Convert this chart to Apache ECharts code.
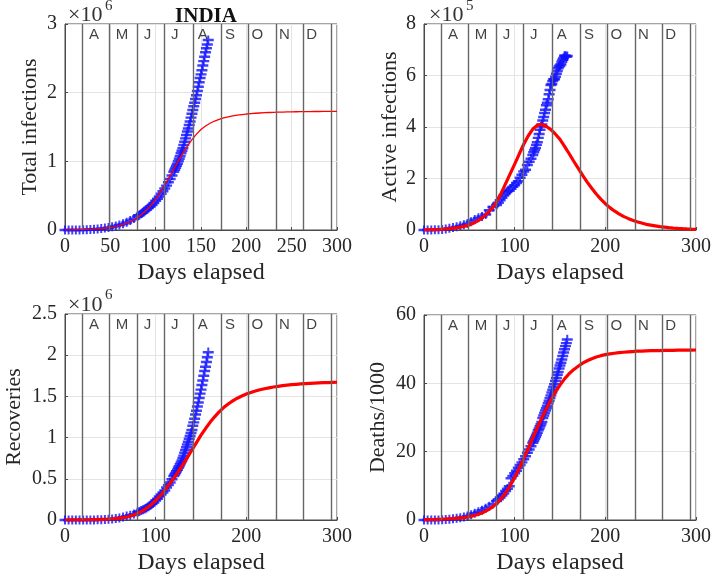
<!DOCTYPE html>
<html><head><meta charset="utf-8">
<script src="https://cdn.jsdelivr.net/npm/echarts@6/dist/echarts.min.js"></script>
<style>html,body{margin:0;padding:0;background:#fff}#c{width:714px;height:576px}</style>
</head><body><div id="c"></div><script>
// ---- data ----
const blueDays = [0,4,8,12,16,20,24,28,32,36,40,44,48,52,56,60,64,68,72,76,80,
  82,84,86,88,90,92,94,96,98,100,102,104,106,108,110,112,114,116,118,120,
  121,122,123,124,125,126,127,128,129,130,131,132,133,134,135,136,137,138,139,140,
  141,142,143,144,145,146,147,148,149,150,151,152,153,154,155,156,157,158];
// total infections (x1e6)
const totalInfections = [0.0001,0.0001,0.0003,0.0007,0.0011,0.0025,0.0048,0.0076,0.0115,0.0157,0.0214,0.0279,0.0349,0.0464,0.0597,0.0743,0.0906,0.112,0.1385,0.1658,0.1987,
  0.2169,0.2366,0.2575,0.2766,0.2983,0.3216,0.3431,0.3673,0.395,0.426,0.456,0.49,0.529,0.567,0.605,0.648,0.697,0.743,0.794,0.849,
  0.879,0.907,0.936,0.968,1.003,1.038,1.077,1.118,1.155,1.192,1.238,1.287,1.336,1.385,1.435,1.48,1.531,1.583,1.638,1.695,
  1.75,1.803,1.855,1.908,1.964,2.027,2.088,2.153,2.215,2.268,2.329,2.396,2.461,2.526,2.589,2.647,2.702,2.767];
// active infections (x1e5)
const activeInfections = [0.001,0.001,0.003,0.006,0.01,0.023,0.043,0.066,0.097,0.126,0.165,0.207,0.248,0.322,0.403,0.473,0.528,0.603,0.767,0.896,0.979,
  1.066,1.162,1.261,1.341,1.428,1.504,1.529,1.602,1.687,1.746,1.827,1.895,2.034,2.154,2.279,2.346,2.528,2.654,2.769,2.915,
  3.021,3.114,3.188,3.31,3.414,3.582,3.735,3.898,4.024,4.102,4.254,4.389,4.547,4.676,4.85,4.943,5.084,5.28,5.442,5.638,
  5.675,5.788,5.858,5.862,5.953,6.074,6.176,6.29,6.356,6.391,6.437,6.539,6.616,6.686,6.77,6.771,6.728,6.761];
// recoveries (x1e6)
const recoveries = [0.00001,0.00001,0.00002,0.00004,0.0001,0.0002,0.0004,0.0008,0.0014,0.0026,0.0043,0.0063,0.009,0.0126,0.0174,0.0246,0.0349,0.0483,0.0578,0.0715,0.0952,
  0.1042,0.1138,0.1242,0.1348,0.147,0.162,0.1803,0.1949,0.2134,0.2377,0.2588,0.2852,0.3095,0.3347,0.3593,0.3947,0.4245,0.457,0.4955,0.5348,
  0.5537,0.5719,0.5929,0.6121,0.636,0.6535,0.6767,0.7007,0.7245,0.7531,0.7827,0.8175,0.8499,0.8853,0.9172,0.9523,0.9884,1.02,1.0581,1.0947,
  1.1451,1.1861,1.2303,1.282,1.328,1.378,1.4279,1.4806,1.535,1.5836,1.6392,1.6951,1.7514,1.8084,1.862,1.919,1.9774,2.038];
// deaths (thousands)
const deaths = [0.002,0.003,0.006,0.012,0.03,0.07,0.14,0.25,0.39,0.52,0.69,0.88,1.15,1.57,1.98,2.42,2.87,3.44,4.02,4.71,5.61,
  6.08,6.65,7.2,7.75,8.5,9.2,9.9,12.24,12.95,13.7,14.48,15.3,16.1,16.9,17.83,18.66,19.7,20.64,21.6,22.67,
  23.17,23.73,24.31,24.91,25.6,26.27,26.82,27.5,28.08,28.73,29.86,30.6,31.36,32.06,32.77,33.43,34.19,34.96,35.75,36.51,
  37.36,38.13,38.94,39.79,40.7,41.59,42.52,43.38,44.39,45.26,46.09,47.03,48.04,49.04,49.98,50.92,51.8,52.89];

const modelDays = [0,5,10,15,20,25,30,35,40,45,50,55,60,65,70,75,80,85,90,95,100,105,110,115,120,125,130,135,140,145,150,
  155,160,165,170,175,180,185,190,195,200,205,210,215,220,225,230,235,240,245,250,255,260,265,270,275,280,285,290,295,300];
const modelTotal = [0.003,0.003,0.004,0.006,0.007,0.01,0.013,0.017,0.022,0.029,0.038,0.05,0.065,0.084,0.109,0.141,0.181,0.231,0.292,0.365,0.45,0.547,0.655,0.77,0.889,1.006,1.119,1.223,1.316,1.396,1.464,
  1.515,1.555,1.587,1.612,1.632,1.648,1.661,1.672,1.681,1.689,1.695,1.7,1.704,1.708,1.711,1.714,1.716,1.718,1.72,1.721,1.722,1.723,1.724,1.725,1.726,1.726,1.727,1.727,1.728,1.728];
const modelActive = [0.01,0.01,0.015,0.02,0.03,0.04,0.06,0.08,0.11,0.15,0.2,0.27,0.37,0.5,0.65,0.84,1.08,1.42,1.8,2.18,2.56,2.95,3.33,3.66,3.92,4.07,4.1,4.02,3.9,3.72,3.52,
  3.25,2.97,2.68,2.4,2.12,1.86,1.62,1.4,1.2,1.02,0.87,0.74,0.63,0.53,0.45,0.38,0.32,0.27,0.22,0.19,0.16,0.13,0.11,0.09,0.075,0.062,0.052,0.043,0.036,0.03];
const modelRecoveries = [0,0.001,0.001,0.002,0.002,0.003,0.004,0.005,0.007,0.009,0.012,0.016,0.022,0.031,0.043,0.058,0.08,0.108,0.143,0.186,0.237,0.295,0.36,0.432,0.508,0.588,0.672,0.76,0.85,0.94,1.03,
  1.11,1.185,1.252,1.312,1.364,1.408,1.446,1.478,1.505,1.528,1.548,1.565,1.58,1.593,1.604,1.614,1.622,1.63,1.636,1.642,1.647,1.651,1.655,1.658,1.661,1.664,1.666,1.668,1.67,1.672];
const modelDeaths = [0.1,0.12,0.15,0.2,0.25,0.32,0.4,0.5,0.6,0.75,1,1.3,1.7,2.2,2.9,3.7,4.8,6.2,7.9,10,12.4,15.1,18,21,24,27,29.9,32.6,35.2,37.5,39.5,
  41.3,42.8,44,45,45.9,46.6,47.2,47.7,48.1,48.4,48.6,48.8,49,49.1,49.2,49.3,49.4,49.45,49.5,49.55,49.58,49.6,49.63,49.65,49.67,49.7,49.7,49.72,49.74,49.75];

const monthStartDays = [19,49,80,110,141,172,202,233,263,294];
const monthLabelDays = [32,63,91,121,152,182,212,242,272];
const monthNames = ['A','M','J','J','A','S','O','N','D'];

const yTicks = [
  {max:3, interval:1}, {max:8, interval:2}, {max:2.5, interval:0.5}, {max:60, interval:20}
];
const xIntervals = [50,100,100,100];
const yNames = ['Total infections','Active infections','Recoveries','Deaths/1000'];

// ---- layout / style ----
const SERIF = 'Liberation Serif';
const grids = [
  {left:65, top:24, width:272, height:206},
  {left:424, top:24, width:273, height:206},
  {left:65, top:314, width:272, height:208},
  {left:424, top:315, width:273, height:207}
];
const yNameGaps = [24, 23, 40, 35];
const redWidths = [1.3, 3.2, 3.2, 3.2];
const blueSets = [totalInfections, activeInfections, recoveries, deaths];
const redSets = [modelTotal, modelActive, modelRecoveries, modelDeaths];
const plusPath = 'path://M0,3H10V5.2H0Z M4.1,0H5.9V8H4.1Z';
const frame = '#4a4a4a';
const txt = '#262626';

const option = {
  animation:false,
  backgroundColor:'#fff',
  title:{text:'INDIA', left:201, top:1, textAlign:'center',
    textStyle:{fontFamily:SERIF, fontWeight:'bold', fontSize:21, color:'#111'}},
  grid: grids.map(g => Object.assign({show:true, borderColor:frame, borderWidth:1, backgroundColor:'#fff', containLabel:false}, g)),
  xAxis: grids.map((g,i) => ({
    gridIndex:i, type:'value', min:0, max:300, interval:xIntervals[i],
    axisLine:{show:true, lineStyle:{color:frame, width:1}},
    axisTick:{show:true, inside:true, length:3, lineStyle:{color:frame}},
    axisLabel:{fontFamily:SERIF, fontSize:20, color:txt, margin:7},
    splitLine:{show:true, lineStyle:{color:'#e4e4e4', width:1}},
    name:'Days elapsed', nameLocation:'middle', nameGap:31,
    nameTextStyle:{fontFamily:SERIF, fontSize:24, color:txt}
  })),
  yAxis: grids.map((g,i) => ({
    gridIndex:i, type:'value', min:0, max:yTicks[i].max, interval:yTicks[i].interval,
    axisLine:{show:true, lineStyle:{color:frame, width:1}},
    axisTick:{show:true, inside:true, length:3, lineStyle:{color:frame}},
    axisLabel:{fontFamily:SERIF, fontSize:20, color:txt, margin:8},
    splitLine:{show:true, lineStyle:{color:'#e4e4e4', width:1}},
    name:yNames[i], nameLocation:'middle', nameGap:yNameGaps[i], nameRotate:90,
    nameTextStyle:{fontFamily:SERIF, fontSize:22, color:txt}
  })),
  series: [],
  graphic: [
    {type:'text', left:68, top:4, style:{text:'×10', fontFamily:SERIF, fontSize:22, fill:'#333'}},
    {type:'text', left:105, top:-1, style:{text:'6', fontFamily:SERIF, fontSize:15, fill:'#333'}},
    {type:'text', left:429, top:4, style:{text:'×10', fontFamily:SERIF, fontSize:22, fill:'#333'}},
    {type:'text', left:466, top:-1, style:{text:'5', fontFamily:SERIF, fontSize:15, fill:'#333'}},
    {type:'text', left:68, top:294, style:{text:'×10', fontFamily:SERIF, fontSize:22, fill:'#333'}},
    {type:'text', left:105, top:288, style:{text:'6', fontFamily:SERIF, fontSize:15, fill:'#333'}}
  ]
};

for (let i = 0; i < 4; i++) {
  // month boundary lines
  option.series.push({
    type:'line', xAxisIndex:i, yAxisIndex:i, data:[], z:1, silent:true,
    markLine:{silent:true, symbol:['none','none'], label:{show:false},
      lineStyle:{color:'#666', width:1.4, type:'solid'},
      data: monthStartDays.map(d => ({xAxis:d}))}
  });
  // observed data
  option.series.push({
    type:'scatter', xAxisIndex:i, yAxisIndex:i, z:2,
    symbol:plusPath, symbolSize:[11,9],
    itemStyle:{color:'#1010ff'},
    data: blueDays.map((d,k) => [d, blueSets[i][k]])
  });
  // model curve
  option.series.push({
    type:'line', xAxisIndex:i, yAxisIndex:i, z:3, showSymbol:false, symbol:'none',
    lineStyle:{color:'#ff0000', width:redWidths[i]},
    data: modelDays.map((d,k) => [d, redSets[i][k]])
  });
  // month labels
  const yl = yTicks[i].max * 0.945;
  option.series.push({
    type:'scatter', xAxisIndex:i, yAxisIndex:i, z:4, symbolSize:1, silent:true,
    itemStyle:{color:'rgba(0,0,0,0)'},
    label:{show:true, position:'inside', fontFamily:'Liberation Sans', fontSize:15, color:'#111',
      formatter: p => monthNames[p.dataIndex]},
    data: monthLabelDays.map(d => [d, yl])
  });
}

const chart = echarts.init(document.getElementById('c'), null, {renderer:'canvas'});
chart.setOption(option);
</script></body></html>
